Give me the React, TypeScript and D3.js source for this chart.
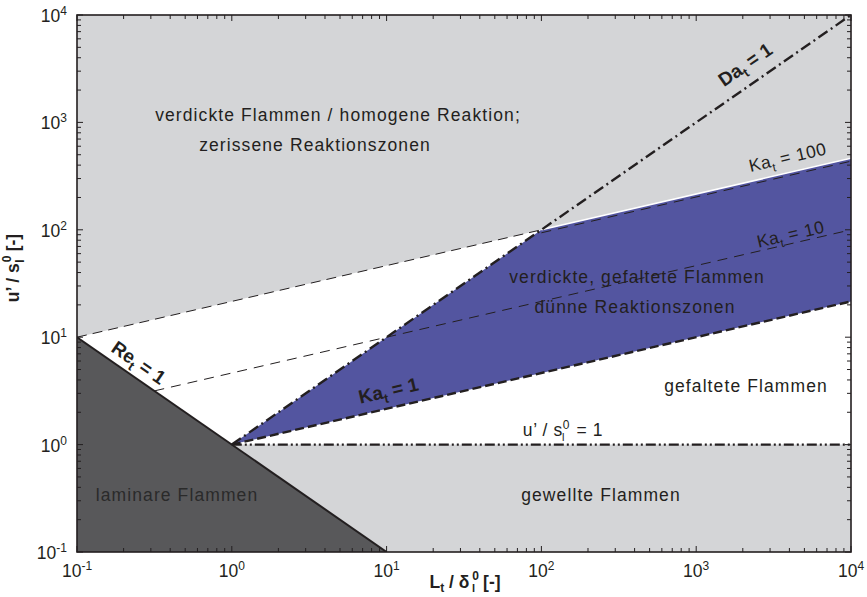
import React from "react";
import * as d3 from "d3";

// Borghi regime diagram: turbulence intensity vs. integral length scale
const xDomain: [number, number] = [0.1, 1e4];
const yDomain: [number, number] = [0.1, 1e4];
const decadeExponents = [-1, 0, 1, 2, 3, 4];

// Regime boundaries [L_t/δ_l, u'/s_l]
const reLine: [number, number][] = [[0.1, 10], [10, 0.1]];
const daLine: [number, number][] = [[1, 1], [1e4, 1e4]];
const ka1Line: [number, number][] = [[1, 1], [1e4, 21.54]];
const ka10Line: [number, number][] = [[0.3162, 3.162], [1e4, 100]];
const ka100LeftLine: [number, number][] = [[0.1, 10], [100, 100]];
const ka100RightLine: [number, number][] = [[100, 100], [1e4, 464.2]];
const unityLine: [number, number][] = [[1, 1], [1e4, 1]];

// Filled regimes
const upperRegion: [number, number][] = [[0.1, 10], [0.1, 1e4], [1e4, 1e4], [1e4, 464.2]];
const thinZoneRegion: [number, number][] = [[1, 1], [100, 100], [1e4, 464.2], [1e4, 21.54]];
const wrinkledRegion: [number, number][] = [[1, 1], [1e4, 1], [1e4, 0.1], [10, 0.1]];
const laminarRegion: [number, number][] = [[0.1, 10], [10, 0.1], [0.1, 0.1]];

const X0 = 77, X1 = 851, Y0 = 15, Y1 = 552;
const FONT = "'Liberation Sans', Arial, Helvetica, sans-serif";
const INK = "#231f20";

export default function App() {
  const x = d3.scaleLog().domain(xDomain).range([X0, X1]);
  const y = d3.scaleLog().domain(yDomain).range([Y1, Y0]);
  const line = d3.line<[number, number]>().x((d) => x(d[0])).y((d) => y(d[1]));
  const poly = (pts: [number, number][]) => line(pts) + "Z";

  const minorX: number[] = [];
  const minorY: number[] = [];
  for (let e = -1; e < 4; e++) {
    for (let m = 2; m <= 9; m++) {
      minorX.push(m * Math.pow(10, e));
      minorY.push(m * Math.pow(10, e));
    }
  }
  const majors = decadeExponents.map((e) => Math.pow(10, e));

  const slopeDeg = (a: [number, number], b: [number, number]) =>
    (Math.atan2(y(b[1]) - y(a[1]), x(b[0]) - x(a[0])) * 180) / Math.PI;
  const reAngle = slopeDeg(reLine[0], reLine[1]);
  const daAngle = slopeDeg(daLine[0], daLine[1]);
  const kaAngle = slopeDeg(ka1Line[0], ka1Line[1]);

  const labelStyle = { fontFamily: FONT, fontSize: 17.5, fill: INK, letterSpacing: 1.1 } as const;

  return (
    <svg
      width={867}
      height={597}
      style={{ position: "absolute", left: 0, top: 0, background: "#fff" }}
    >
      <defs>
        <clipPath id="plotClip">
          <rect x={X0} y={Y0} width={X1 - X0} height={Y1 - Y0} />
        </clipPath>
      </defs>

      <g clipPath="url(#plotClip)">
        <rect x={X0} y={Y0} width={X1 - X0} height={Y1 - Y0} fill="#fff" />
        <path d={poly(upperRegion)} fill="#d4d5d7" />
        <path d={poly(thinZoneRegion)} fill="#5355a0" />
        <path d={poly(wrinkledRegion)} fill="#d4d5d7" />
        <path d={poly(laminarRegion)} fill="#58585a" />

        {/* Ka_t = 100 */}
        <path d={line(ka100LeftLine)!} fill="none" stroke={INK} strokeWidth={1} strokeDasharray="10,6" />
        <path d={line(ka100RightLine)!} fill="none" stroke="#fff" strokeWidth={1.6} />
        <path
          d={line(ka100RightLine)!}
          transform="translate(0,3)"
          fill="none"
          stroke={INK}
          strokeWidth={1}
          strokeDasharray="10,7"
        />
        {/* Ka_t = 10 */}
        <path d={line(ka10Line)!} fill="none" stroke={INK} strokeWidth={1} strokeDasharray="10,7" />
        {/* Ka_t = 1 */}
        <path d={line(ka1Line)!} fill="none" stroke={INK} strokeWidth={2.4} strokeDasharray="9,4" />
        {/* u'/s_l = 1 */}
        <path
          d={line(unityLine)!}
          fill="none"
          stroke={INK}
          strokeWidth={2.4}
          strokeDasharray="10,3,2,3,2,3"
        />
        {/* Da_t = 1 */}
        <path
          d={line(daLine)!}
          fill="none"
          stroke={INK}
          strokeWidth={2.4}
          strokeDasharray="11,4,2,4"
        />
        {/* Re_t = 1 */}
        <path d={line(reLine)!} fill="none" stroke={INK} strokeWidth={2} />
      </g>

      {/* ticks on all four sides */}
      <g stroke={INK} strokeWidth={1}>
        {minorX.map((v, i) => (
          <g key={"mx" + i}>
            <line x1={x(v)} x2={x(v)} y1={Y1} y2={Y1 - 4} />
            <line x1={x(v)} x2={x(v)} y1={Y0} y2={Y0 + 4} />
          </g>
        ))}
        {minorY.map((v, i) => (
          <g key={"my" + i}>
            <line x1={X0} x2={X0 + 4} y1={y(v)} y2={y(v)} />
            <line x1={X1} x2={X1 - 4} y1={y(v)} y2={y(v)} />
          </g>
        ))}
        {majors.map((v, i) => (
          <g key={"mj" + i}>
            <line x1={x(v)} x2={x(v)} y1={Y1} y2={Y1 - 6} />
            <line x1={x(v)} x2={x(v)} y1={Y0} y2={Y0 + 6} />
            <line x1={X0} x2={X0 + 6} y1={y(v)} y2={y(v)} />
            <line x1={X1} x2={X1 - 6} y1={y(v)} y2={y(v)} />
          </g>
        ))}
      </g>
      <rect x={X0} y={Y0} width={X1 - X0} height={Y1 - Y0} fill="none" stroke={INK} strokeWidth={1.6} />

      {/* tick labels */}
      <g style={{ fontFamily: FONT, fill: INK }}>
        {decadeExponents.map((e) => (
          <text key={"xl" + e} x={x(Math.pow(10, e))} y={577} textAnchor="middle" fontSize={17.5}>
            10<tspan dy={-7} fontSize={12}>{e}</tspan>
          </text>
        ))}
        {decadeExponents.map((e) => (
          <text key={"yl" + e} x={67} y={y(Math.pow(10, e)) + 7} textAnchor="end" fontSize={17.5}>
            10<tspan dy={-7} fontSize={12}>{e}</tspan>
          </text>
        ))}
      </g>

      {/* axis titles */}
      <text x={465} y={588} textAnchor="middle" style={{ fontFamily: FONT, fontWeight: "bold", fontSize: 17.5, fill: INK }}>
        L<tspan dy={4} fontSize={12}>t</tspan>
        <tspan dy={-4}> / δ</tspan>
        <tspan dy={-8} dx={3} fontSize={12}>0</tspan>
        <tspan dy={12} dx={-7} fontSize={11}>l</tspan>
        <tspan dy={-4} dx={8}>[-]</tspan>
      </text>
      <text
        transform={`translate(19,268) rotate(-90)`}
        textAnchor="middle"
        style={{ fontFamily: FONT, fontWeight: "bold", fontSize: 17.5, fill: INK }}
      >
        u’ / s
        <tspan dy={-8} dx={1} fontSize={12}>0</tspan>
        <tspan dy={13} dx={-7} fontSize={12}>l</tspan>
        <tspan dy={-5} dx={8}>[-]</tspan>
      </text>

      {/* regime labels */}
      <g style={labelStyle}>
        <text x={338} y={121} textAnchor="middle">verdickte Flammen / homogene Reaktion;</text>
        <text x={315} y={151} textAnchor="middle">zerissene Reaktionszonen</text>
        <text x={637} y={283} textAnchor="middle">verdickte, gefaltete Flammen</text>
        <text x={635} y={313} textAnchor="middle">dünne Reaktionszonen</text>
        <text x={746} y={392} textAnchor="middle">gefaltete Flammen</text>
        <text x={601} y={501} textAnchor="middle">gewellte Flammen</text>
        <text x={177} y={501} textAnchor="middle" style={{ fill: "#2a2a2a" }}>laminare Flammen</text>
        <text x={563} y={436} textAnchor="middle" style={{ letterSpacing: 0.6 }}>
          u’ / s<tspan dy={-7} fontSize={12}>0</tspan>
          <tspan dy={12} dx={-8} fontSize={11}>l</tspan>
          <tspan dy={-5} dx={6}> = 1</tspan>
        </text>
      </g>

      {/* boundary labels */}
      <g style={{ fontFamily: FONT, fill: INK }}>
        <text
          transform={`translate(135,368) rotate(${reAngle})`}
          textAnchor="middle"
          fontSize={19}
          fontWeight="bold"
        >
          Re<tspan dy={5} fontSize={13}>t</tspan>
          <tspan dy={-5}> = 1</tspan>
        </text>
        <text
          transform={`translate(390,397) rotate(${kaAngle})`}
          textAnchor="middle"
          fontSize={19}
          fontWeight="bold"
        >
          Ka<tspan dy={5} fontSize={13}>t</tspan>
          <tspan dy={-5}> = 1</tspan>
        </text>
        <text
          transform={`translate(749,70) rotate(${daAngle})`}
          textAnchor="middle"
          fontSize={19}
          fontWeight="bold"
        >
          Da<tspan dy={5} fontSize={13}>t</tspan>
          <tspan dy={-5}> = 1</tspan>
        </text>
        <text
          transform={`translate(792,240) rotate(${kaAngle})`}
          textAnchor="middle"
          fontSize={17.5}
          letterSpacing={0.6}
        >
          Ka<tspan dy={5} fontSize={12}>t</tspan>
          <tspan dy={-5}> = 10</tspan>
        </text>
        <text
          transform={`translate(789,163) rotate(${kaAngle})`}
          textAnchor="middle"
          fontSize={17.5}
          letterSpacing={0.6}
        >
          Ka<tspan dy={5} fontSize={12}>t</tspan>
          <tspan dy={-5}> = 100</tspan>
        </text>
      </g>
    </svg>
  );
}
